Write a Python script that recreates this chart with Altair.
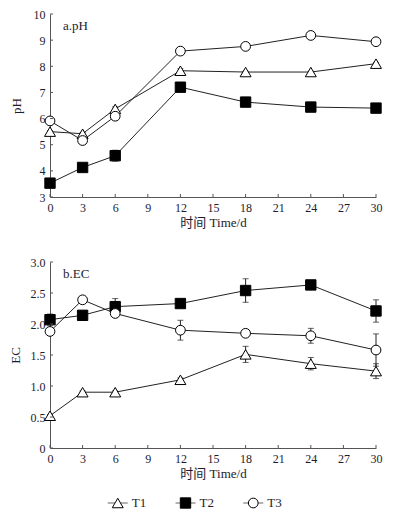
import altair as alt
import pandas as pd

days = [0, 3, 6, 12, 18, 24, 30]
series = ["T1", "T2", "T3"]
x_ticks = [0, 3, 6, 9, 12, 15, 18, 21, 24, 27, 30]

ph_T1 = [5.50, 5.42, 6.37, 7.83, 7.78, 7.78, 8.10]
ph_T2 = [3.53, 4.13, 4.58, 7.20, 6.63, 6.44, 6.40]
ph_T3 = [5.91, 5.16, 6.09, 8.58, 8.76, 9.18, 8.94]
ph_err_T1 = [0.04, 0.05, 0.08, 0.08, 0.03, 0.03, 0.05]
ph_err_T2 = [0.08, 0.06, 0.21, 0.16, 0.05, 0.05, 0.04]
ph_err_T3 = [0.05, 0.05, 0.06, 0.04, 0.04, 0.04, 0.04]
ph_ticks = [3, 4, 5, 6, 7, 8, 9, 10]

ec_T1 = [0.52, 0.90, 0.90, 1.10, 1.51, 1.36, 1.24]
ec_T2 = [2.07, 2.14, 2.28, 2.33, 2.54, 2.63, 2.21]
ec_T3 = [1.88, 2.39, 2.17, 1.90, 1.85, 1.81, 1.58]
ec_err_T1 = [0.02, 0.02, 0.02, 0.03, 0.13, 0.10, 0.12]
ec_err_T2 = [0.09, 0.07, 0.13, 0.03, 0.19, 0.03, 0.18]
ec_err_T3 = [0.05, 0.02, 0.03, 0.16, 0.03, 0.12, 0.26]
ec_ticks = [0, 0.5, 1.0, 1.5, 2.0, 2.5, 3.0]

FONT = "'Liberation Serif', 'Noto Sans CJK SC', serif"
INK = "#1c1c2e"
AX = "#555555"
W = 326


def long_df(vals, errs):
    rows = []
    for s, v, e in zip(series, vals, errs):
        for d, vv, ee in zip(days, v, e):
            rows.append({"day": d, "series": s, "value": vv, "err": ee})
    return pd.DataFrame(rows)


shape_scale = alt.Scale(domain=series, range=["triangle-up", "square", "circle"])
fill_scale = alt.Scale(domain=series, range=["white", "black", "white"])
size_scale = alt.Scale(domain=series, range=[120, 95, 110])


def panel(df, ydom, yticks, ytitle, label, label_expr, H, tpad):
    xscale = alt.Scale(domain=[0, 30], nice=False, zero=False)
    xaxis = alt.Axis(values=x_ticks, title="时间 Time/d", tickSize=0,
                     labelPadding=5, titlePadding=3, grid=False,
                     labelOverlap=False, labelFlush=False)
    yscale = alt.Scale(domain=ydom, nice=False, zero=False)
    yaxis = alt.Axis(values=yticks, title=ytitle, tickSize=0, labelPadding=5,
                     titlePadding=tpad, grid=False, labelExpr=label_expr,
                     labelOverlap=False, labelFlush=False)
    base = alt.Chart(df).encode(x=alt.X("day:Q", scale=xscale, axis=xaxis))
    lines = base.mark_line(color="#222222", strokeWidth=1).encode(
        y=alt.Y("value:Q", scale=yscale, axis=yaxis), detail="series:N")
    eb = base.transform_calculate(lo="datum.value - datum.err", hi="datum.value + datum.err")
    rule = eb.mark_rule(color="#222222", strokeWidth=1).encode(
        y=alt.Y("lo:Q", scale=yscale, axis=yaxis), y2="hi:Q")
    cap_hi = eb.mark_tick(orient="horizontal", size=6, thickness=1, color="#222222").encode(
        y=alt.Y("hi:Q", scale=yscale, axis=yaxis))
    cap_lo = eb.mark_tick(orient="horizontal", size=6, thickness=1, color="#222222").encode(
        y=alt.Y("lo:Q", scale=yscale, axis=yaxis))
    pts = base.mark_point(stroke="black", strokeWidth=1, opacity=1, fillOpacity=1).encode(
        y=alt.Y("value:Q", scale=yscale, axis=yaxis),
        shape=alt.Shape("series:N", scale=shape_scale, legend=None),
        fill=alt.Fill("series:N", scale=fill_scale, legend=None),
        size=alt.Size("series:N", scale=size_scale, legend=None),
    )
    xt = alt.Chart(pd.DataFrame({"day": x_ticks})).mark_rule(color=AX, strokeWidth=1).encode(
        x=alt.X("day:Q", scale=xscale, axis=xaxis), y=alt.value(H), y2=alt.value(H - 3))
    yt = alt.Chart(pd.DataFrame({"value": yticks})).mark_rule(color=AX, strokeWidth=1).encode(
        y=alt.Y("value:Q", scale=yscale, axis=yaxis), x=alt.value(0), x2=alt.value(3))
    txt = alt.Chart(pd.DataFrame({"t": [label]})).mark_text(
        align="left", baseline="middle", font=FONT, fontSize=13, color=INK).encode(
        text="t:N", x=alt.value(13), y=alt.value(12))
    return alt.layer(lines, rule, cap_hi, cap_lo, pts, xt, yt, txt).properties(width=W, height=H)


ph_df = long_df([ph_T1, ph_T2, ph_T3], [ph_err_T1, ph_err_T2, ph_err_T3])
ec_df = long_df([ec_T1, ec_T2, ec_T3], [ec_err_T1, ec_err_T2, ec_err_T3])

top = panel(ph_df, [3, 10], ph_ticks, "pH", "a.pH", "format(datum.value, 'd')", 183, 10)
bottom = panel(ec_df, [0, 3], ec_ticks, "EC", "b.EC",
               "datum.value == 0 ? '0' : format(datum.value, '.1f')", 186, 8)

leg_df = pd.DataFrame({"series": series})
lx = alt.X("series:N", scale=alt.Scale(type="point", padding=1.63, domain=series), axis=None)
leg_base = alt.Chart(leg_df).encode(x=lx)
leg_line = leg_base.mark_tick(orient="horizontal", size=20, thickness=1, color="#222222")
leg_pts = leg_base.mark_point(stroke="black", strokeWidth=1, opacity=1, fillOpacity=1).encode(
    shape=alt.Shape("series:N", scale=shape_scale, legend=None),
    fill=alt.Fill("series:N", scale=fill_scale, legend=None),
    size=alt.Size("series:N", scale=size_scale, legend=None),
)
leg_txt = leg_base.mark_text(align="left", baseline="middle", dx=14, font=FONT,
                             fontSize=13, color=INK).encode(text="series:N")
legend = alt.layer(leg_line, leg_pts, leg_txt).properties(width=271, height=14)

panels = alt.vconcat(top, bottom, spacing=27)
chart = alt.vconcat(panels, legend, spacing=15).properties(
    padding={"left": 1, "top": 0, "right": 5, "bottom": 0}
).configure_view(stroke=None).configure_axis(
    labelFont=FONT, titleFont=FONT, labelFontSize=12, titleFontSize=13,
    labelColor=INK, titleColor=INK, titleFontWeight="normal",
    domainColor=AX, domainWidth=1, labelOverlap=False, labelFlush=False,
)

chart.save("out.html", embed_options={"renderer": "svg", "actions": False})
